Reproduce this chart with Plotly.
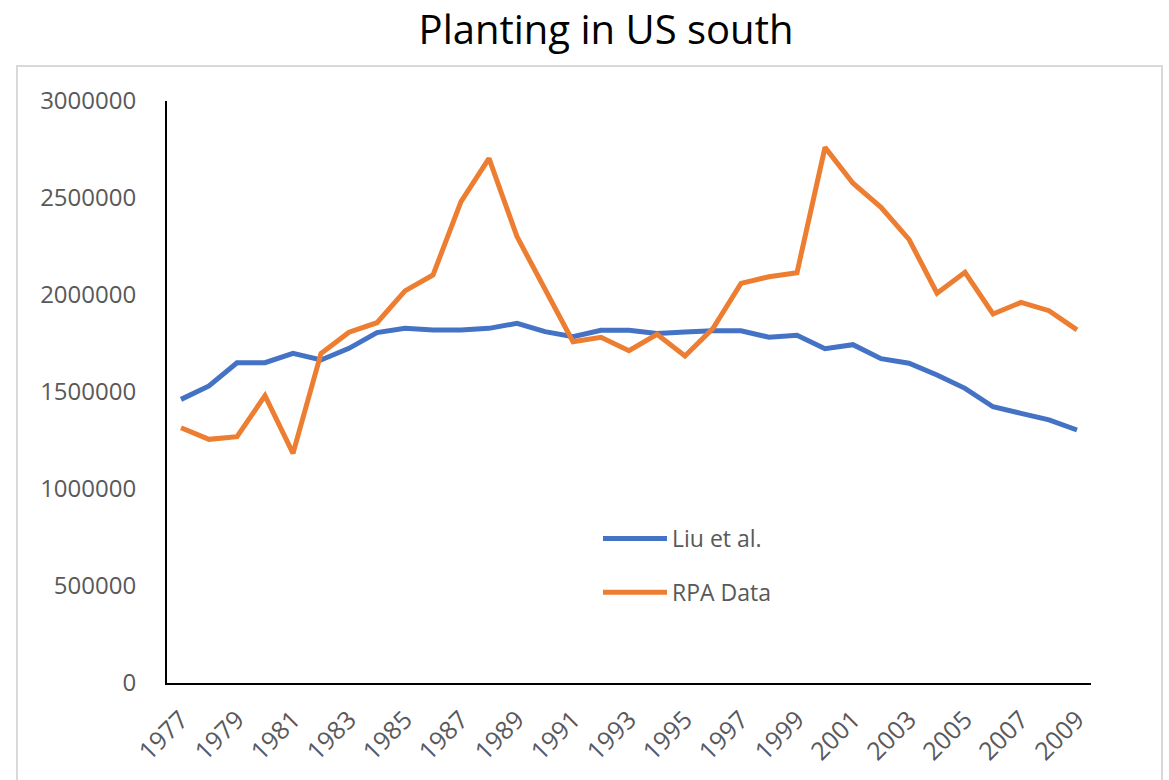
import plotly.graph_objects as go

years = list(range(1977, 2010))
liu = [1462000, 1531000, 1651000, 1651000, 1699000, 1665000, 1725000, 1806000, 1828000,
       1820000, 1820000, 1828000, 1854000, 1811000, 1785000, 1818000, 1818000, 1802000,
       1809000, 1816000, 1816000, 1782000, 1792000, 1723000, 1744000, 1672000, 1648000,
       1588000, 1519000, 1424000, 1390000, 1356000, 1304000]
rpa = [1316000, 1256000, 1270000, 1481000, 1184000, 1699000, 1808000, 1857000, 2021000,
       2103000, 2481000, 2704000, 2301000, 2026000, 1759000, 1782000, 1713000, 1797000,
       1686000, 1828000, 2060000, 2094000, 2115000, 2761000, 2576000, 2452000, 2287000,
       2009000, 2117000, 1902000, 1962000, 1919000, 1820000]
series_names = ["Liu et al.", "RPA Data"]
colors = ["#4472C4", "#ED7D31"]

W, H = 1169, 780
L, T = 167, 101
R = W - 1091
B = H - 683
pw, ph = W - L - R, H - T - B

def px_x(p):
    return (p - L) / pw

def px_y(p):
    return (H - B - p) / ph

fig = go.Figure()
for i, (name, vals) in enumerate(zip(series_names, [liu, rpa])):
    fig.add_trace(go.Scatter(
        x=years, y=vals, mode="lines", name=name, legendgroup=f"g{i}",
        line=dict(color=colors[i], width=5, shape="linear"),
    ))

fig.update_layout(
    width=W, height=H,
    margin=dict(l=L, r=R, t=T, b=B),
    paper_bgcolor="white", plot_bgcolor="white",
    font=dict(family="Open Sans", color="#595959", size=23),
    title=dict(text="Planting in US south", x=606 / W, xanchor="center",
               y=1 - 30 / H, yanchor="middle",
               font=dict(family="Open Sans", size=40, color="#000000")),
    xaxis=dict(range=[1976.5, 2009.5], tick0=1977, dtick=2, tickangle=-45,
               tickformat="d", showgrid=False, zeroline=False,
               showline=True, linecolor="black", linewidth=2, ticks="",
               ticklabelstandoff=10,
               tickfont=dict(size=25, color="#595959")),
    yaxis=dict(range=[0, 3000000], dtick=500000, tickformat="d",
               showgrid=False, zeroline=False, showline=True,
               linecolor="black", linewidth=2, ticks="", ticklabelstandoff=24,
               tickfont=dict(size=24, color="#595959")),
    legend=dict(x=px_x(598), y=px_y(517), xanchor="left", yanchor="top",
                bgcolor="rgba(0,0,0,0)", itemwidth=64, tracegroupgap=21,
                font=dict(size=23, color="#595959")),
    shapes=[dict(type="rect", xref="paper", yref="paper",
                 x0=px_x(17), x1=px_x(1162), y0=px_y(800), y1=px_y(66),
                 line=dict(color="#D9D9D9", width=2), layer="below")],
)

fig.write_html("out.html", config={"displayModeBar": False},
               post_script="document.body.style.margin='0';document.body.style.overflow='hidden';")
